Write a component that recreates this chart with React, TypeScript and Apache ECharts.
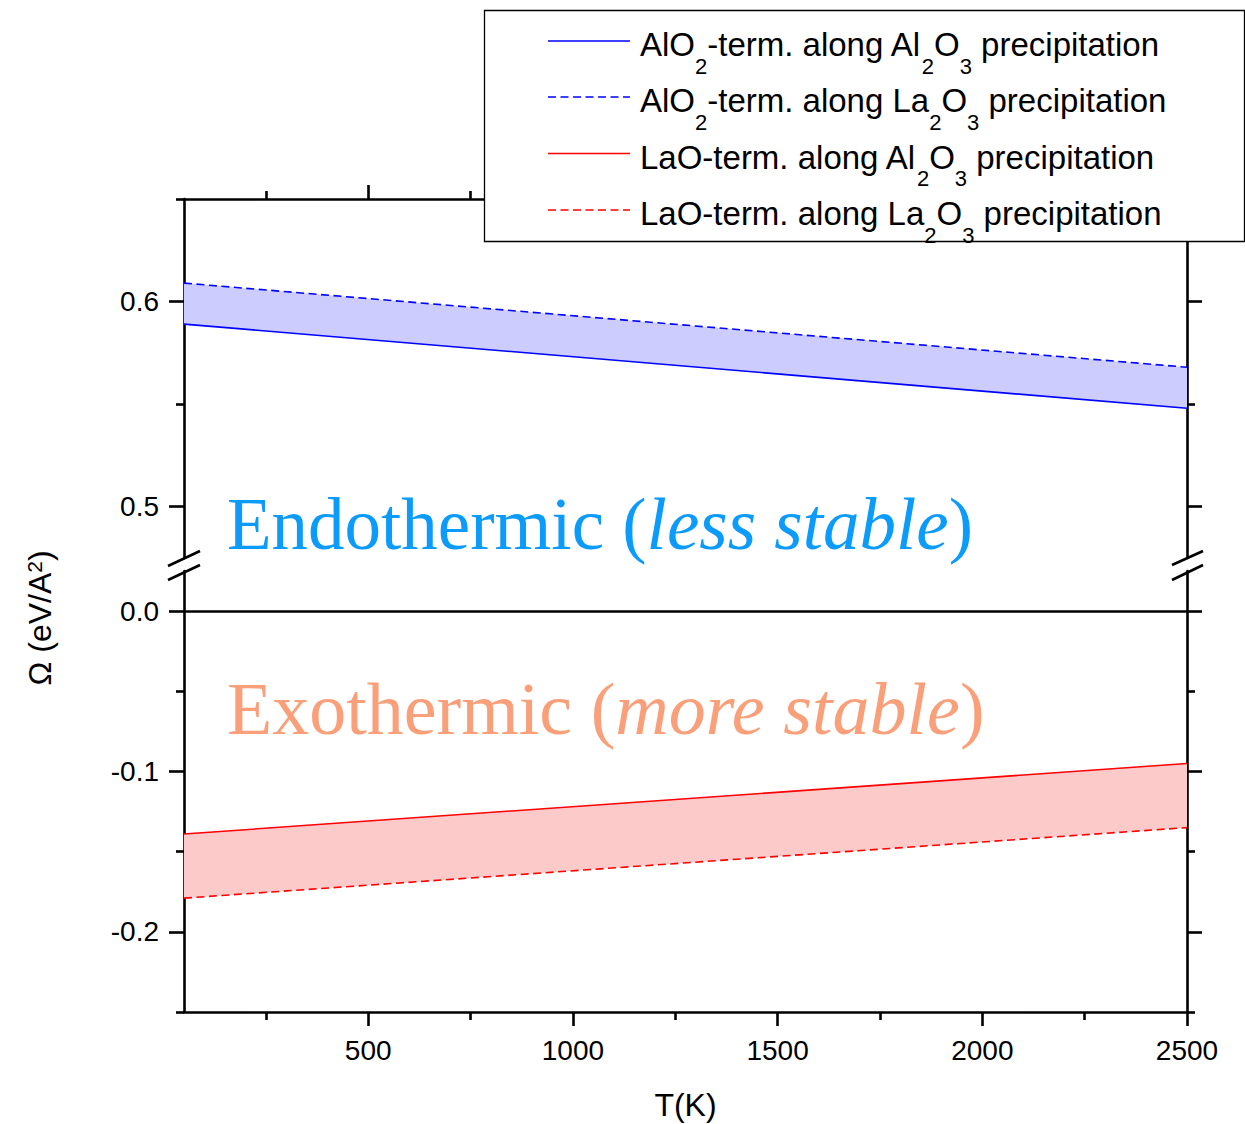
import React, { useEffect, useRef } from "react";
import * as echarts from "echarts";

// ---- Data ----
const T = [50, 2500];
const alo2AlongAl2O3 = [0.589, 0.548];
const alo2AlongLa2O3 = [0.609, 0.568];
const laoAlongAl2O3 = [-0.139, -0.095];
const laoAlongLa2O3 = [-0.179, -0.135];

const xMajorTicks = [500, 1000, 1500, 2000, 2500];
const xMinorTicks = [250, 750, 1250, 1750, 2250];
const yTopMajor = [0.5, 0.6];
const yTopMinor = [0.55, 0.65];
const yBottomMajor = [0, -0.1, -0.2];
const yBottomMinor = [-0.05, -0.15, -0.25];

const legendLabels = [
  "{m|AlO}{s|2}{m|-term. along Al}{s|2}{m|O}{s|3}{m| precipitation}",
  "{m|AlO}{s|2}{m|-term. along La}{s|2}{m|O}{s|3}{m| precipitation}",
  "{m|LaO-term. along Al}{s|2}{m|O}{s|3}{m| precipitation}",
  "{m|LaO-term. along La}{s|2}{m|O}{s|3}{m| precipitation}",
];
const legendColors = ["#0000ff", "#0000ff", "#ff0000", "#ff0000"];
const legendDashed = [false, true, false, true];

const SANS = "'Liberation Sans', Arial, sans-serif";
const SERIF = "'Liberation Serif', 'Times New Roman', serif";
const DASH = [8, 4.5];
const AXIS_W = 2.6;

function pairs(xs: number[], ys: number[]) {
  return xs.map((x, i) => [x, ys[i]]);
}

function bandSeries(upper: number[], lower: number[], fill: string, xi: number, yi: number) {
  return {
    type: "custom",
    xAxisIndex: xi,
    yAxisIndex: yi,
    z: 1,
    silent: true,
    data: [[T[0], upper[0]]],
    renderItem: (_params: any, api: any) => {
      const up = upper.map((v, i) => api.coord([T[i], v]));
      const lo = lower.map((v, i) => api.coord([T[i], v])).reverse();
      return {
        type: "polygon",
        shape: { points: up.concat(lo) },
        style: { fill },
      };
    },
  };
}

function lineSeries(name: string, ys: number[], color: string, dashed: boolean, xi: number, yi: number, extra: any = {}) {
  return {
    name,
    type: "line",
    xAxisIndex: xi,
    yAxisIndex: yi,
    z: 3,
    symbol: "none",
    showSymbol: false,
    silent: true,
    data: pairs(T, ys),
    lineStyle: { color, width: 1.6, type: dashed ? DASH : "solid" },
    ...extra,
  };
}

const axisCommonLine = { show: true, onZero: false, lineStyle: { color: "#000", width: AXIS_W } };
const labelStyle = { color: "#000", fontFamily: SANS, fontSize: 28 };

function xAxisDef(grid: number, position: string, ticks: number[], len: number, showLine: boolean, labels: boolean, extra: any = {}) {
  return {
    type: "value",
    gridIndex: grid,
    position,
    min: 50,
    max: 2500,
    axisLine: showLine ? axisCommonLine : { show: false, onZero: false },
    axisTick: { show: true, inside: false, length: len, customValues: ticks, lineStyle: { color: "#000", width: AXIS_W } },
    axisLabel: labels
      ? { show: true, customValues: ticks, margin: 24, formatter: (v: number) => String(v), ...labelStyle }
      : { show: false },
    splitLine: { show: false },
    ...extra,
  };
}

function yAxisDef(grid: number, position: string, min: number, max: number, ticks: number[], len: number, showLine: boolean, labels: boolean) {
  return {
    type: "value",
    gridIndex: grid,
    position,
    min,
    max,
    axisLine: showLine ? axisCommonLine : { show: false, onZero: false },
    axisTick: { show: true, inside: false, length: len, customValues: ticks, lineStyle: { color: "#000", width: AXIS_W } },
    axisLabel: labels
      ? { show: true, customValues: ticks, margin: 25, formatter: (v: number) => v.toFixed(1), ...labelStyle }
      : { show: false },
    splitLine: { show: false },
  };
}

export default function App() {
  const ref = useRef<HTMLDivElement>(null);

  useEffect(() => {
    if (!ref.current) return;
    const chart = echarts.init(ref.current, undefined, { renderer: "svg" });

    const legendRows = [41, 97, 153.5, 210];
    const legendElements: any[] = [
      {
        type: "rect",
        z: 100,
        shape: { x: 484.5, y: 10.5, width: 760, height: 231 },
        style: { fill: "#fff", stroke: "#000", lineWidth: 1.3 },
      },
    ];
    legendLabels.forEach((lab, i) => {
      legendElements.push({
        type: "line",
        z: 101,
        shape: { x1: 548, y1: legendRows[i], x2: 630, y2: legendRows[i] },
        style: { stroke: legendColors[i], lineWidth: 1.6, lineDash: legendDashed[i] ? DASH : null },
      });
      legendElements.push({
        type: "text",
        z: 101,
        x: 640,
        y: legendRows[i] - 13,
        style: {
          text: lab,
          align: "left",
          verticalAlign: "top",
          rich: {
            m: { fontSize: 33, lineHeight: 33, verticalAlign: "top", fontFamily: SANS, fill: "#000", color: "#000" },
            s: { fontSize: 22, lineHeight: 22, verticalAlign: "top", padding: [27, 0, 0, 0], fontFamily: SANS, fill: "#000", color: "#000" },
          },
        },
      });
    });

    const breakMarks = [
      [168, 566, 200, 551],
      [168, 580, 200, 565],
      [1172, 565, 1203, 551],
      [1172, 580, 1203, 565],
    ].map(([x1, y1, x2, y2]) => ({
      type: "line",
      z: 50,
      shape: { x1, y1, x2, y2 },
      style: { stroke: "#000", lineWidth: 2.6 },
    }));

    const option: any = {
      animation: false,
      backgroundColor: "#ffffff",
      grid: [
        { left: 184, width: 1003, top: 199, height: 359, containLabel: false, outerBoundsMode: "none" },
        { left: 184, width: 1003, top: 571, height: 441, containLabel: false, outerBoundsMode: "none" },
      ],
      xAxis: [
        xAxisDef(0, "top", xMajorTicks, 14, true, false),
        xAxisDef(0, "top", xMinorTicks, 8, false, false),
        xAxisDef(1, "bottom", xMajorTicks, 14, true, true, {
          name: "T(K)",
          nameLocation: "middle",
          nameGap: 77,
          nameTextStyle: { color: "#000", fontFamily: SANS, fontSize: 32 },
        }),
        xAxisDef(1, "bottom", xMinorTicks, 8, false, false),
      ],
      yAxis: [
        yAxisDef(0, "left", 0.475, 0.65, yTopMajor, 15, true, true),
        yAxisDef(0, "left", 0.475, 0.65, yTopMinor, 8, false, false),
        yAxisDef(0, "right", 0.475, 0.65, yTopMajor, 15, true, false),
        yAxisDef(0, "right", 0.475, 0.65, yTopMinor, 8, false, false),
        yAxisDef(1, "left", -0.25, 0.025, yBottomMajor, 15, true, true),
        yAxisDef(1, "left", -0.25, 0.025, yBottomMinor, 8, false, false),
        yAxisDef(1, "right", -0.25, 0.025, yBottomMajor, 15, true, false),
        yAxisDef(1, "right", -0.25, 0.025, yBottomMinor, 8, false, false),
      ],
      series: [
        bandSeries(alo2AlongLa2O3, alo2AlongAl2O3, "#ccccff", 0, 0),
        bandSeries(laoAlongAl2O3, laoAlongLa2O3, "#fdcaca", 2, 4),
        lineSeries("AlO2-term. along Al2O3 precipitation", alo2AlongAl2O3, "#0000ff", false, 0, 0),
        lineSeries("AlO2-term. along La2O3 precipitation", alo2AlongLa2O3, "#0000ff", true, 0, 0),
        lineSeries("LaO-term. along Al2O3 precipitation", laoAlongAl2O3, "#ff0000", false, 2, 4, {
          markLine: {
            silent: true,
            symbol: ["none", "none"],
            label: { show: false },
            lineStyle: { color: "#000", width: AXIS_W, type: "solid" },
            data: [{ yAxis: 0 }],
          },
        }),
        lineSeries("LaO-term. along La2O3 precipitation", laoAlongLa2O3, "#ff0000", true, 2, 4),
      ],
      graphic: [
        ...breakMarks,
        {
          type: "text",
          z: 60,
          x: 227,
          y: 524,
          style: {
            text: "{n|Endothermic (}{i|less stable}{n|)}",
            align: "left",
            verticalAlign: "middle",
            rich: {
              n: { fontSize: 73, fontFamily: SERIF, fill: "#0a9bfb", color: "#0a9bfb" },
              i: { fontSize: 73, fontFamily: SERIF, fontStyle: "italic", fill: "#0a9bfb", color: "#0a9bfb" },
            },
          },
        },
        {
          type: "text",
          z: 60,
          x: 227,
          y: 709,
          style: {
            text: "{n|Exothermic (}{i|more stable}{n|)}",
            align: "left",
            verticalAlign: "middle",
            rich: {
              n: { fontSize: 74, fontFamily: SERIF, fill: "#f9a07b", color: "#f9a07b" },
              i: { fontSize: 74, fontFamily: SERIF, fontStyle: "italic", fill: "#f9a07b", color: "#f9a07b" },
            },
          },
        },
        {
          type: "text",
          z: 60,
          x: 40,
          y: 618,
          rotation: Math.PI / 2,
          style: {
            text: "{m|Ω (eV/A}{p|2}{m|)}",
            align: "center",
            verticalAlign: "middle",
            rich: {
              m: { fontSize: 32, lineHeight: 32, padding: [10, 0, 0, 0], verticalAlign: "bottom", fontFamily: SANS, fill: "#000", color: "#000" },
              p: { fontSize: 21, lineHeight: 21, verticalAlign: "top", fontFamily: SANS, fill: "#000", color: "#000" },
            },
          },
        },
        ...legendElements,
      ],
    };

    chart.setOption(option);
    return () => chart.dispose();
  }, []);

  return (
    <div
      ref={ref}
      style={{ position: "absolute", left: 0, top: 0, width: 1245, height: 1124, background: "#fff" }}
    />
  );
}
